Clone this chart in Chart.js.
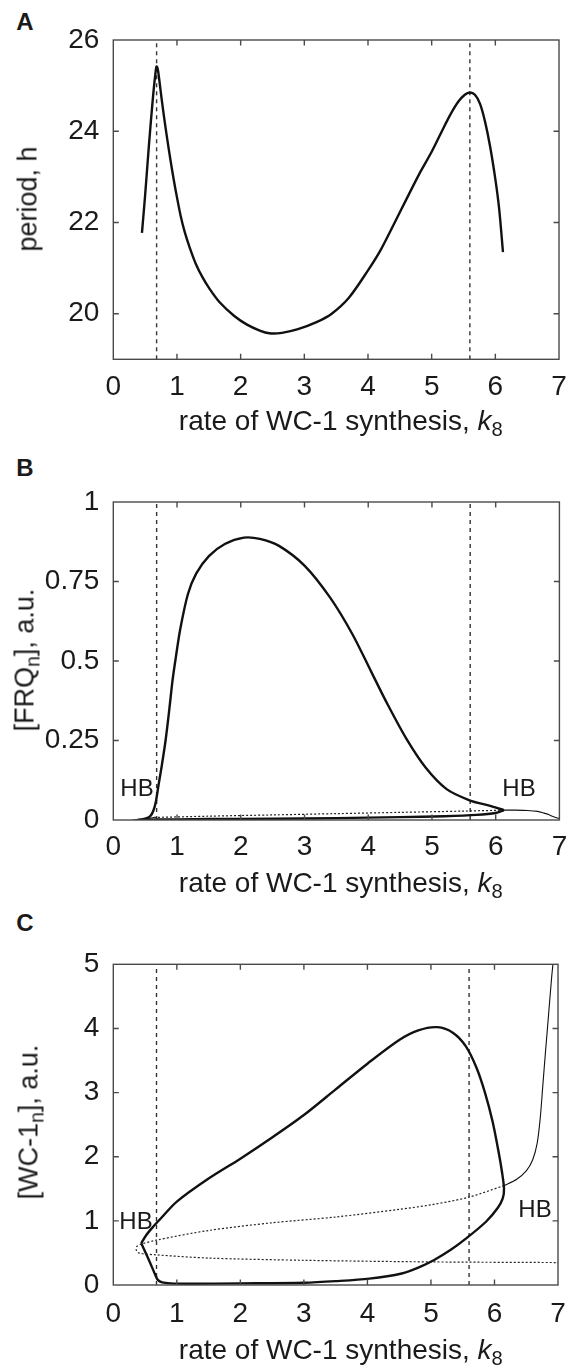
<!DOCTYPE html>
<html>
<head>
<meta charset="utf-8">
<title>WC-1 synthesis rate</title>
<script src="https://cdn.jsdelivr.net/npm/chart.js@4.4.1/dist/chart.umd.min.js"></script>
<style>
    html, body { margin: 0; padding: 0; background: #fff; }
    body { position: relative; width: 578px; height: 1369px; overflow: hidden; font-family: "Liberation Sans", Arial, sans-serif; color: #1a1a1a; }
    canvas { position: absolute; left: 0; }
    .letter { position: absolute; font-weight: bold; font-size: 24px; line-height: 1; transform: translate(-50%, -50%); }
    .xtitle { position: absolute; left: 340.8px; font-size: 28px; line-height: 1; white-space: nowrap; transform: translateX(-50%); }
    .ytitle { position: absolute; font-size: 27px; line-height: 1; white-space: nowrap; transform: translate(-50%, -50%) rotate(-90deg); }
    .hb { position: absolute; font-size: 24px; line-height: 1; transform: translate(-50%, -50%); }
    .sub { position: relative; top: 0.3em; font-size: 0.72em; }
</style>
</head>
<body>
<div class="letter" style="left:25px;top:22px">A</div>
<div class="letter" style="left:25px;top:468px">B</div>
<div class="letter" style="left:25px;top:923px">C</div>

<canvas id="chart-period" width="578" height="420" style="top:0"></canvas>
<canvas id="chart-frq" width="578" height="420" style="top:460px"></canvas>
<canvas id="chart-wc" width="578" height="420" style="top:920px"></canvas>

<div class="ytitle" style="left:28px;top:199px">period, h</div>
<div class="ytitle" style="left:25px;top:660px">[FRQ<span class="sub">n</span>], a.u.</div>
<div class="ytitle" style="left:29px;top:1122px">[WC-1<span class="sub">n</span>], a.u.</div>

<div class="xtitle" style="top:407px">rate of WC-1 synthesis, <i>k</i><span class="sub">8</span></div>
<div class="xtitle" style="top:869px">rate of WC-1 synthesis, <i>k</i><span class="sub">8</span></div>
<div class="xtitle" style="top:1336px">rate of WC-1 synthesis, <i>k</i><span class="sub">8</span></div>

<div class="hb" style="left:137px;top:788px">HB</div>
<div class="hb" style="left:519px;top:788px">HB</div>
<div class="hb" style="left:136px;top:1221px">HB</div>
<div class="hb" style="left:535px;top:1209px">HB</div>

<script>
// Data
const kTicks = [0, 1, 2, 3, 4, 5, 6, 7];
const periodTicks = [20, 22, 24, 26];
const frqTicks = [0, 0.25, 0.5, 0.75, 1];
const wcTicks = [0, 1, 2, 3, 4, 5];
const markerK = [0.68, 5.6];

// A: period of the limit cycle
const kPeriod = [0.45, 0.5, 0.56, 0.62, 0.66, 0.68, 0.7, 0.72, 0.76, 0.8, 0.85, 0.9, 0.95, 1.0, 1.06, 1.12, 1.2, 1.3, 1.4, 1.5, 1.67, 1.9, 2.1, 2.3, 2.45, 2.65, 2.9, 3.2, 3.43, 3.7, 4.0, 4.2, 4.42, 4.6, 4.8, 5.0, 5.16, 5.3, 5.42, 5.52, 5.6, 5.68, 5.76, 5.84, 5.92, 6.0, 6.06, 6.12];
const period = [21.77, 22.6, 23.7, 24.7, 25.25, 25.42, 25.35, 25.15, 24.7, 24.28, 23.8, 23.35, 22.93, 22.55, 22.13, 21.8, 21.45, 21.08, 20.8, 20.57, 20.25, 19.95, 19.76, 19.63, 19.57, 19.58, 19.66, 19.82, 20.0, 20.35, 20.95, 21.4, 22.0, 22.5, 23.05, 23.55, 24.0, 24.38, 24.65, 24.8, 24.85, 24.8, 24.6, 24.2, 23.65, 22.95, 22.3, 21.35];

// B: [FRQn] max / min of the cycle and steady states
const kFrqMax = [0.38, 0.5, 0.58, 0.63, 0.67, 0.71, 0.76, 0.82, 0.88, 0.93, 0.98, 1.05, 1.17, 1.3, 1.5, 1.75, 2.05, 2.3, 2.6, 3.0, 3.4, 3.75, 4.05, 4.3, 4.6, 4.9, 5.23, 5.59, 5.9, 6.13];
const frqMax = [0.0, 0.004, 0.012, 0.03, 0.06, 0.11, 0.17, 0.25, 0.35, 0.44, 0.51, 0.6, 0.71, 0.775, 0.83, 0.868, 0.888, 0.884, 0.862, 0.8, 0.7, 0.585, 0.465, 0.365, 0.255, 0.165, 0.097, 0.062, 0.045, 0.031];
const kFrqMin = [6.13, 6.0, 5.7, 5.2, 4.5, 3.5, 2.5, 1.5, 1.0, 0.7, 0.5, 0.38];
const frqMin = [0.031, 0.022, 0.016, 0.012, 0.009, 0.006, 0.004, 0.003, 0.002, 0.002, 0.001, 0.0];
const kFrqUnstable = [0.64, 1.5, 2.5, 3.5, 4.5, 5.5, 6.13];
const frqUnstable = [0.008, 0.012, 0.016, 0.02, 0.024, 0.028, 0.031];
const kFrqStableLeft = [0.3, 0.45, 0.55, 0.64];
const frqStableLeft = [0.0, 0.002, 0.005, 0.008];
const kFrqStableRight = [6.13, 6.3, 6.5, 6.66, 6.75, 6.83, 6.9, 6.97, 7.0];
const frqStableRight = [0.031, 0.031, 0.03, 0.027, 0.022, 0.017, 0.011, 0.006, 0.005];

// C: [WC-1n] cycle loop and steady states
const kWcCycle = [0.44, 0.52, 0.62, 0.75, 1.0, 1.5, 2.0, 2.5, 3.0, 3.5, 4.0, 4.5, 4.8, 5.1, 5.35, 5.55, 5.72, 5.85, 5.97, 6.06, 6.12, 6.15, 6.13, 6.05, 5.87, 5.56, 5.3, 5.05, 4.8, 4.54, 4.03, 3.5, 3.0, 2.0, 1.22, 0.9, 0.77, 0.7, 0.66, 0.56, 0.44];
const wcCycle = [0.65, 0.78, 0.9, 1.04, 1.3, 1.66, 1.97, 2.3, 2.65, 3.05, 3.45, 3.82, 3.97, 4.02, 3.93, 3.72, 3.38, 3.0, 2.55, 2.1, 1.75, 1.5, 1.35, 1.2, 0.99, 0.73, 0.54, 0.39, 0.27, 0.18, 0.1, 0.06, 0.035, 0.025, 0.02, 0.025, 0.04, 0.08, 0.16, 0.39, 0.65];
const kWcUnstable = [6.15, 5.6, 5.0, 4.5, 3.5, 2.5, 1.5, 0.68, 0.45, 0.37, 0.36, 0.4, 0.68, 1.5, 3.0, 5.0, 7.0];
const wcUnstable = [1.55, 1.37, 1.25, 1.18, 1.06, 0.97, 0.85, 0.7, 0.64, 0.6, 0.55, 0.5, 0.47, 0.42, 0.385, 0.36, 0.35];
const kWcStable = [6.15, 6.35, 6.5, 6.6, 6.67, 6.72, 6.76, 6.8, 6.85, 6.9, 6.92];
const wcStable = [1.55, 1.65, 1.78, 1.95, 2.2, 2.6, 3.1, 3.6, 4.2, 4.8, 5.0];

const FigureComponent = function () {
    const context = {
        ids: {
            period: 'chart-period',
            frq: 'chart-frq',
            wc: 'chart-wc'
        },
        style: {
            ink: '#111',
            frame: '#4a4a4a',
            text: '#1a1a1a',
            font: 'Liberation Sans'
        }
    };

    const pts = function (xs, ys) {
        return xs.map((x, i) => ({ x: x, y: ys[i] }));
    };

    const solid = function (xs, ys, width) {
        return { data: pts(xs, ys), borderColor: context.style.ink, borderWidth: width, showLine: true, tension: 0.3 };
    };

    const dotted = function (xs, ys) {
        return { data: pts(xs, ys), borderColor: '#222', borderWidth: 1.2, borderDash: [2, 2], showLine: true, tension: 0.3 };
    };

    const markers = function (yMin, yMax) {
        return markerK.map(k => ({
            data: [{ x: k, y: yMin }, { x: k, y: yMax }],
            borderColor: '#333', borderWidth: 1.4, borderDash: [4, 4], showLine: true, tension: 0
        }));
    };

    // box with inward ticks on all four sides
    const framePlugin = {
        id: 'frame',
        afterDatasetsDraw(chart) {
            const ctx = chart.ctx;
            const a = chart.chartArea;
            const xs = chart.scales.x;
            const ys = chart.scales.y;
            ctx.save();
            ctx.strokeStyle = context.style.frame;
            ctx.lineWidth = 1.4;
            ctx.strokeRect(a.left, a.top, a.right - a.left, a.bottom - a.top);
            ctx.beginPath();
            xs.ticks.forEach(t => {
                const px = xs.getPixelForValue(t.value);
                if (px <= a.left + 1 || px >= a.right - 1) return;
                ctx.moveTo(px, a.bottom); ctx.lineTo(px, a.bottom - 5.5);
                ctx.moveTo(px, a.top); ctx.lineTo(px, a.top + 5.5);
            });
            ys.ticks.forEach(t => {
                const py = ys.getPixelForValue(t.value);
                if (py <= a.top + 1 || py >= a.bottom - 1) return;
                ctx.moveTo(a.left, py); ctx.lineTo(a.left + 5.5, py);
                ctx.moveTo(a.right, py); ctx.lineTo(a.right - 5.5, py);
            });
            ctx.stroke();
            ctx.restore();
        }
    };

    const buildChart = function (id, panel) {
        const tickFont = { family: context.style.font, size: 28 };
        return new Chart(document.getElementById(id), {
            type: 'scatter',
            data: { datasets: panel.datasets },
            options: {
                responsive: false,
                animation: false,
                devicePixelRatio: 1,
                layout: { padding: { top: panel.padTop, right: 9.6, left: 0, bottom: 0 } },
                plugins: { legend: { display: false }, tooltip: { enabled: false } },
                elements: { point: { radius: 0 } },
                scales: {
                    x: {
                        type: 'linear', min: 0, max: 7,
                        grid: { display: false, drawTicks: false },
                        border: { display: false },
                        afterBuildTicks: s => { s.ticks = kTicks.map(v => ({ value: v })); },
                        afterFit: s => { s.height = panel.xHeight; },
                        ticks: { padding: panel.xPad, color: context.style.text, font: tickFont, maxRotation: 0, autoSkip: false, callback: v => String(v) }
                    },
                    y: {
                        type: 'linear', min: panel.yMin, max: panel.yMax,
                        grid: { display: false, drawTicks: false },
                        border: { display: false },
                        afterBuildTicks: s => { s.ticks = panel.yTicks.map(v => ({ value: v })); },
                        afterFit: s => { s.width = 113.3; },
                        ticks: { padding: 14, color: context.style.text, font: tickFont, autoSkip: false, callback: v => String(v) }
                    }
                }
            },
            plugins: [framePlugin]
        });
    };

    const init = function () {
        buildChart(context.ids.period, {
            padTop: 40, xHeight: 60.7, xPad: 11.2,
            yMin: 19, yMax: 26, yTicks: periodTicks,
            datasets: [solid(kPeriod, period, 2.4)].concat(markers(19, 26))
        });

        buildChart(context.ids.frq, {
            padTop: 42, xHeight: 60, xPad: 10.8,
            yMin: 0, yMax: 1, yTicks: frqTicks,
            datasets: [
                solid(kFrqMax, frqMax, 2.4),
                solid(kFrqMin, frqMin, 2.4),
                dotted(kFrqUnstable, frqUnstable),
                solid(kFrqStableLeft, frqStableLeft, 1.1),
                solid(kFrqStableRight, frqStableRight, 1.1)
            ].concat(markers(0, 1))
        });

        buildChart(context.ids.wc, {
            padTop: 44.3, xHeight: 55, xPad: 12.2,
            yMin: 0, yMax: 5, yTicks: wcTicks,
            datasets: [
                solid(kWcCycle, wcCycle, 2.4),
                dotted(kWcUnstable, wcUnstable),
                solid(kWcStable, wcStable, 1.1)
            ].concat(markers(0, 5))
        });
    };

    return {
        init: init
    };
}();

window.addEventListener('load', function () {
    FigureComponent.init();
});
</script>
</body>
</html>
